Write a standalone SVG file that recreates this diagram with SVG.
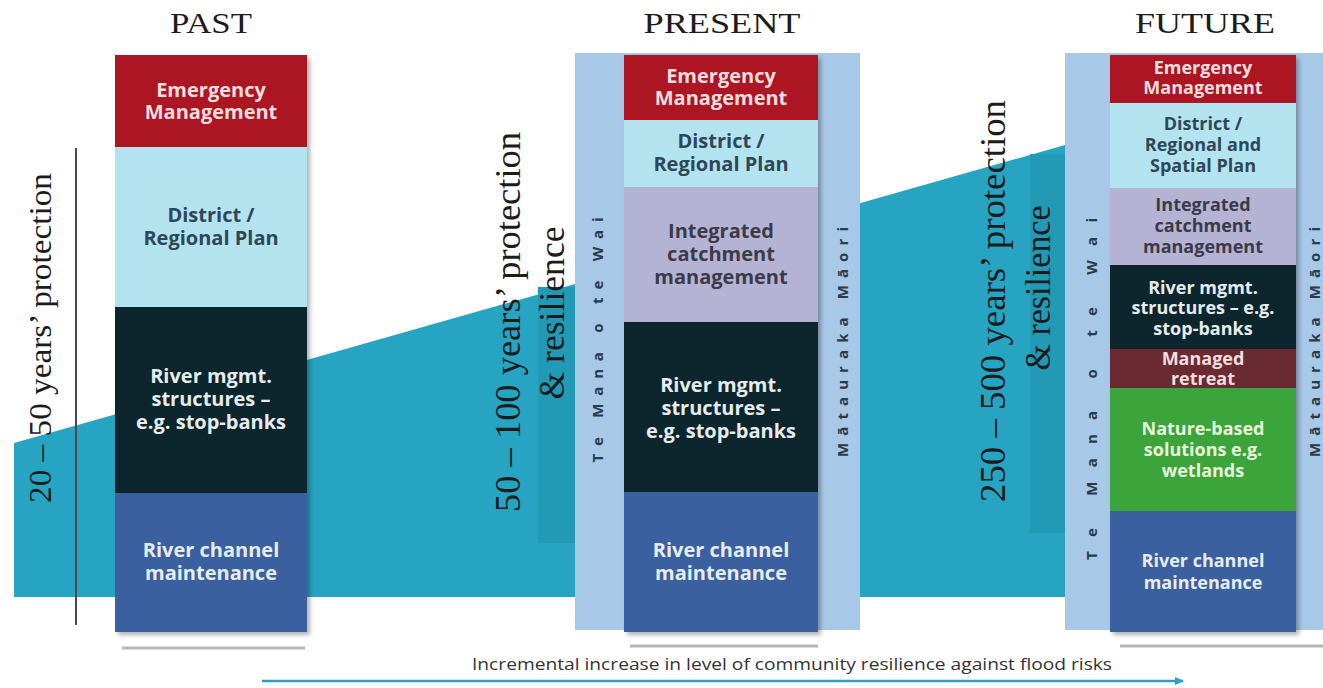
<svg xmlns="http://www.w3.org/2000/svg" width="1323" height="688" viewBox="0 0 1323 688">
<defs>
<style>
.title{font-family:"Liberation Serif",serif;font-size:30px;fill:#1c1c1c;text-anchor:middle}
.vt{font-family:"Liberation Serif",serif;fill:#1c1c1c;text-anchor:middle}
.bx{font-family:"Open Sans",sans-serif;font-weight:700;font-size:20px;text-anchor:middle}
.fx{font-size:18px}
.sm{font-family:"Open Sans",sans-serif;font-weight:700;font-size:15px;fill:#2b3a48;text-anchor:middle}
.red{fill:#ab1720}.lb{fill:#b4e3f0}.dk{fill:#0f252f}.bl{fill:#3a609f}.lv{fill:#b4b3d3}.mr{fill:#6a2932}.gr{fill:#3ba43b}
.strip{fill:#a8c8e8}
.tw{fill:#f2dede}.td{fill:#2e4757}.tl{fill:#e6ecef}.tv{fill:#3a3a48}
.shadow{stroke:#9a9a9a;stroke-width:3;opacity:0.7}
</style>
<filter id="ds" x="-10%" y="-10%" width="130%" height="130%">
<feDropShadow dx="3" dy="3" stdDeviation="2" flood-color="#000" flood-opacity="0.3"/>
</filter>
<marker id="ah" markerWidth="10" markerHeight="10" refX="8" refY="5" orient="auto" markerUnits="userSpaceOnUse">
<path d="M0,1 L9,5 L0,9 Z" fill="#2a9fc0"/>
</marker>
</defs>
<rect width="1323" height="688" fill="#ffffff"/>

<g id="background">
<polygon points="14,443 1065,145 1065,597 14,597" fill="#27a4c2"/>
<rect x="538" y="287" width="37" height="256" fill="#229ab6"/>
<rect x="1030" y="154" width="35" height="379" fill="#229ab6"/>
<line x1="76" y1="148" x2="76" y2="625" stroke="#4a4a4a" stroke-width="2"/>
</g>

<g id="titles">
<text class="title" x="211" y="33" textLength="82" lengthAdjust="spacingAndGlyphs">PAST</text>
<text class="title" x="722" y="33" textLength="157" lengthAdjust="spacingAndGlyphs">PRESENT</text>
<text class="title" x="1205" y="33" textLength="140" lengthAdjust="spacingAndGlyphs">FUTURE</text>
</g>

<g id="axis-labels">
<text class="vt" font-size="31" transform="translate(51,338) rotate(-90)" textLength="330" lengthAdjust="spacingAndGlyphs">20 – 50 years’ protection</text>
<text class="vt" font-size="35" transform="translate(520,322) rotate(-90)" textLength="380" lengthAdjust="spacingAndGlyphs">50 – 100 years’ protection</text>
<text class="vt" font-size="35" transform="translate(564,313) rotate(-90)" textLength="173" lengthAdjust="spacingAndGlyphs">&amp; resilience</text>
<text class="vt" font-size="35" transform="translate(1005,301) rotate(-90)" textLength="402" lengthAdjust="spacingAndGlyphs">250 – 500 years’ protection</text>
<text class="vt" font-size="35" transform="translate(1050,288) rotate(-90)" textLength="165" lengthAdjust="spacingAndGlyphs">&amp; resilience</text>
</g>

<g id="past">
<line class="shadow" x1="122" y1="648" x2="305" y2="648"/>
<g filter="url(#ds)">
<rect class="red" x="115" y="55" width="192" height="92"/>
<rect class="lb" x="115" y="147" width="192" height="160"/>
<rect class="dk" x="115" y="307" width="192" height="186"/>
<rect class="bl" x="115" y="493" width="192" height="139"/>
</g>
<text class="bx tw"><tspan x="211" y="97">Emergency</tspan><tspan x="211" y="119">Management</tspan></text>
<text class="bx td"><tspan x="211" y="222">District /</tspan><tspan x="211" y="245">Regional Plan</tspan></text>
<text class="bx tl"><tspan x="211" y="383">River mgmt.</tspan><tspan x="211" y="406">structures –</tspan><tspan x="211" y="429">e.g. stop-banks</tspan></text>
<text class="bx tl"><tspan x="211" y="557">River channel</tspan><tspan x="211" y="580">maintenance</tspan></text>
</g>

<g id="present">
<line class="shadow" x1="630" y1="646" x2="818" y2="646"/>
<rect class="strip" x="575" y="53" width="285" height="577"/>
<text class="sm" transform="translate(603,340) rotate(-90)" textLength="245" lengthAdjust="spacing">Te Mana o te Wai</text>
<text class="sm" transform="translate(848,342) rotate(-90)" textLength="230" lengthAdjust="spacing">Mātauraka Māori</text>
<g filter="url(#ds)">
<rect class="red" x="624" y="55" width="194" height="65"/>
<rect class="lb" x="624" y="120" width="194" height="67"/>
<rect class="lv" x="624" y="187" width="194" height="135"/>
<rect class="dk" x="624" y="322" width="194" height="170"/>
<rect class="bl" x="624" y="492" width="194" height="140"/>
</g>
<text class="bx tw"><tspan x="721" y="83">Emergency</tspan><tspan x="721" y="105">Management</tspan></text>
<text class="bx td"><tspan x="721" y="148">District /</tspan><tspan x="721" y="171">Regional Plan</tspan></text>
<text class="bx tv"><tspan x="721" y="238">Integrated</tspan><tspan x="721" y="261">catchment</tspan><tspan x="721" y="284">management</tspan></text>
<text class="bx tl"><tspan x="721" y="392">River mgmt.</tspan><tspan x="721" y="415">structures –</tspan><tspan x="721" y="438">e.g. stop-banks</tspan></text>
<text class="bx tl"><tspan x="721" y="557">River channel</tspan><tspan x="721" y="580">maintenance</tspan></text>
</g>

<g id="future">
<line class="shadow" x1="1120" y1="646" x2="1323" y2="646"/>
<rect class="strip" x="1065" y="53" width="258" height="577"/>
<text class="sm" transform="translate(1097,389) rotate(-90)" textLength="342" lengthAdjust="spacing">Te Mana o te Wai</text>
<text class="sm" transform="translate(1320,342) rotate(-90)" textLength="230" lengthAdjust="spacing">Mātauraka Māori</text>
<g filter="url(#ds)">
<rect class="red" x="1110" y="55" width="186" height="48"/>
<rect class="lb" x="1110" y="103" width="186" height="85"/>
<rect class="lv" x="1110" y="188" width="186" height="77"/>
<rect class="dk" x="1110" y="265" width="186" height="84"/>
<rect class="mr" x="1110" y="349" width="186" height="39"/>
<rect class="gr" x="1110" y="388" width="186" height="123"/>
<rect class="bl" x="1110" y="511" width="186" height="121"/>
</g>
<text class="bx fx tw"><tspan x="1203" y="74">Emergency</tspan><tspan x="1203" y="94">Management</tspan></text>
<text class="bx fx td"><tspan x="1203" y="130">District /</tspan><tspan x="1203" y="151">Regional and</tspan><tspan x="1203" y="172">Spatial Plan</tspan></text>
<text class="bx fx tv"><tspan x="1203" y="211">Integrated</tspan><tspan x="1203" y="232">catchment</tspan><tspan x="1203" y="253">management</tspan></text>
<text class="bx fx tl"><tspan x="1203" y="294">River mgmt.</tspan><tspan x="1203" y="314">structures – e.g.</tspan><tspan x="1203" y="335">stop-banks</tspan></text>
<text class="bx fx tw"><tspan x="1203" y="365">Managed</tspan><tspan x="1203" y="385">retreat</tspan></text>
<text class="bx fx" fill="#e9f5dc"><tspan x="1203" y="435">Nature-based</tspan><tspan x="1203" y="456">solutions e.g.</tspan><tspan x="1203" y="477">wetlands</tspan></text>
<text class="bx fx tl"><tspan x="1203" y="567">River channel</tspan><tspan x="1203" y="589">maintenance</tspan></text>
</g>

<g id="connectors">
<line x1="262" y1="681" x2="1183" y2="681" stroke="#2a9fc0" stroke-width="2.5" marker-end="url(#ah)"/>
</g>
<g id="caption">
<text x="792" y="670" font-family="Open Sans, sans-serif" font-size="16" fill="#333" text-anchor="middle" textLength="640" lengthAdjust="spacingAndGlyphs">Incremental increase in level of community resilience against flood risks</text>
</g>
</svg>
